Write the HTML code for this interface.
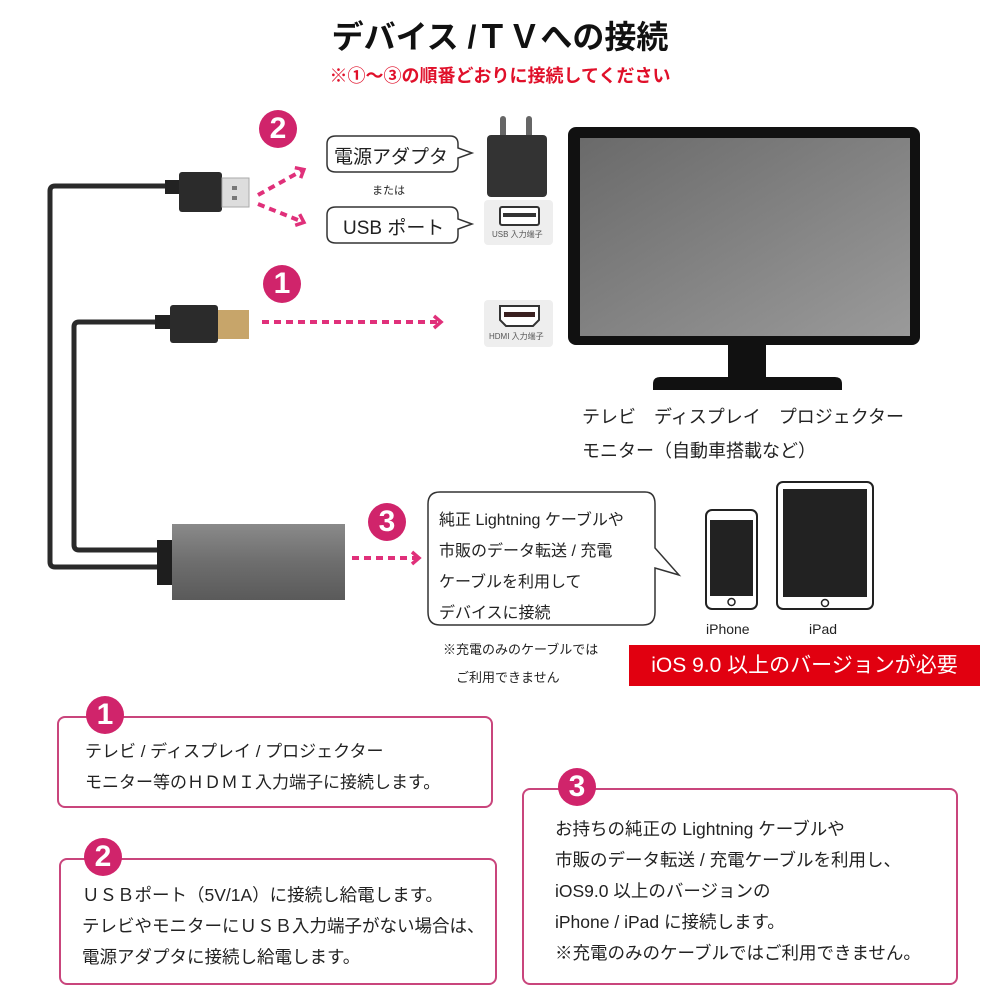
<!DOCTYPE html>
<html><head><meta charset="utf-8"><style>
body{margin:0;width:1000px;height:1000px;background:#fff;position:relative;overflow:hidden;font-family:"Liberation Sans","Noto Sans CJK JP",sans-serif;color:#222}
.t{position:absolute;white-space:nowrap}
.box{position:absolute;border:2px solid #c9457c;border-radius:8px;box-sizing:border-box}
.num{position:absolute;width:38px;height:38px;border-radius:50%;background:#d0246b;color:#fff;font-weight:bold;font-size:30px;line-height:38px;text-align:center}
.bt{position:absolute;font-size:17px;line-height:31px;white-space:nowrap}
</style></head><body>
<div class="t" style="left:0;width:1000px;text-align:center;top:12px;font-size:32px;font-weight:bold;color:#111">デバイス /ＴＶへの接続</div>
<div class="t" style="left:0;width:1000px;text-align:center;top:62px;font-size:18px;font-weight:bold;color:#e0102a">※①～③の順番どおりに接続してください</div>

<svg width="1000" height="1000" style="position:absolute;left:0;top:0">
<defs>
<linearGradient id="scr" x1="0" y1="0" x2="1" y2="1"><stop offset="0" stop-color="#6a6a6a"/><stop offset="1" stop-color="#9a9a9a"/></linearGradient>
<linearGradient id="ad" x1="0" y1="0" x2="0" y2="1"><stop offset="0" stop-color="#8a8a8a"/><stop offset="0.5" stop-color="#6e6e6e"/><stop offset="1" stop-color="#5a5a5a"/></linearGradient>
<marker id="ar" markerUnits="userSpaceOnUse" markerWidth="14" markerHeight="16" refX="8" refY="8" orient="auto"><path d="M2,2 L9,8 L2,14" fill="none" stroke="#e0307a" stroke-width="3.5"/></marker>
</defs>
<path d="M180,186 H55 Q50,186 50,191 V562 Q50,567 55,567 H160" fill="none" stroke="#2a2a2a" stroke-width="5"/>
<path d="M170,322 H79 Q74,322 74,327 V545 Q74,550 79,550 H160" fill="none" stroke="#2a2a2a" stroke-width="5"/>
<rect x="165" y="180" width="18" height="14" fill="#222"/>
<rect x="179" y="172" width="43" height="40" rx="3" fill="#2b2b2b"/>
<rect x="222" y="178" width="27" height="29" fill="#ddd" stroke="#aaa"/>
<rect x="232" y="186" width="5" height="4" fill="#777"/><rect x="232" y="196" width="5" height="4" fill="#777"/>
<rect x="155" y="315" width="18" height="14" fill="#222"/>
<rect x="170" y="305" width="48" height="38" rx="3" fill="#2b2b2b"/>
<rect x="218" y="310" width="31" height="29" fill="#c7a56a"/>
<rect x="157" y="540" width="16" height="45" fill="#1e1e1e"/>
<rect x="172" y="524" width="173" height="76" fill="url(#ad)"/>
<g stroke="#e0307a" stroke-width="4" stroke-dasharray="7,5" fill="none">
<path d="M258,195 L303,170" marker-end="url(#ar)"/>
<path d="M258,204 L303,222" marker-end="url(#ar)"/>
<path d="M262,322 L440,322" marker-end="url(#ar)"/>
<path d="M352,558 L418,558" marker-end="url(#ar)"/>
</g>
<path d="M336,136 H450 Q458,136 458,144 V148 L472,153 L458,158 V164 Q458,172 450,172 H336 Q327,172 327,164 V144 Q327,136 336,136Z" fill="#fff" stroke="#333" stroke-width="1.5"/>
<path d="M336,207 H450 Q458,207 458,215 V219 L472,224 L458,229 V235 Q458,243 450,243 H336 Q327,243 327,235 V215 Q327,207 336,207Z" fill="#fff" stroke="#333" stroke-width="1.5"/>
<path d="M440,492 H645 Q655,492 655,504 V548 L679,575 L655,568 V612 Q655,625 643,625 H440 Q428,625 428,612 V504 Q428,492 440,492Z" fill="#fff" stroke="#333" stroke-width="1.5"/>
<rect x="500" y="116" width="6" height="22" rx="3" fill="#666"/><rect x="526" y="116" width="6" height="22" rx="3" fill="#666"/>
<rect x="487" y="135" width="60" height="62" rx="4" fill="#333"/>
<rect x="484" y="200" width="69" height="45" rx="4" fill="#eee"/>
<rect x="500" y="207" width="39" height="18" rx="2" fill="#fff" stroke="#333" stroke-width="2"/>
<rect x="503" y="213" width="33" height="4" fill="#333"/>
<rect x="484" y="300" width="69" height="47" rx="4" fill="#eee"/>
<path d="M500,306 H539 V320 L533,326 H506 L500,320Z" fill="#fff" stroke="#333" stroke-width="2"/>
<rect x="504" y="312" width="31" height="5" fill="#3a2020"/>
<rect x="568" y="127" width="352" height="218" rx="8" fill="#111"/>
<rect x="580" y="138" width="330" height="198" fill="url(#scr)"/>
<rect x="728" y="344" width="38" height="34" fill="#111"/>
<path d="M660,377 H835 Q842,377 842,384 V390 H653 V384 Q653,377 660,377Z" fill="#111"/>
<rect x="706" y="510" width="51" height="99" rx="6" fill="#fff" stroke="#222" stroke-width="2"/>
<rect x="710" y="520" width="43" height="76" fill="#222"/>
<circle cx="731.5" cy="602" r="3.5" fill="none" stroke="#222" stroke-width="1.5"/>
<rect x="777" y="482" width="96" height="127" rx="6" fill="#fff" stroke="#222" stroke-width="2"/>
<rect x="783" y="489" width="84" height="108" fill="#222"/>
<circle cx="825" cy="603" r="3.5" fill="none" stroke="#222" stroke-width="1.5"/>
</svg>

<div class="num" style="left:259px;top:110px">2</div>
<div class="num" style="left:263px;top:265px">1</div>
<div class="num" style="left:368px;top:503px">3</div>

<div class="t" style="left:334px;top:142px;font-size:19px">電源アダプタ</div>
<div class="t" style="left:372px;top:182px;font-size:11px">または</div>
<div class="t" style="left:343px;top:213px;font-size:19px">USB ポート</div>
<div class="t" style="left:492px;top:229px;font-size:8px;color:#555">USB 入力端子</div>
<div class="t" style="left:489px;top:331px;font-size:8px;color:#555">HDMI 入力端子</div>

<div class="t" style="left:582px;top:403px;font-size:18px">テレビ　ディスプレイ　プロジェクター</div>
<div class="t" style="left:582px;top:437px;font-size:18px">モニター（自動車搭載など）</div>

<div class="t" style="left:439px;top:505px;font-size:16px;line-height:31px">純正 Lightning ケーブルや<br>市販のデータ転送 / 充電<br>ケーブルを利用して<br>デバイスに接続</div>
<div class="t" style="left:443px;top:636px;font-size:13px;line-height:28px">※充電のみのケーブルでは<br>　ご利用できません</div>
<div class="t" style="left:706px;top:621px;font-size:14px">iPhone</div>
<div class="t" style="left:809px;top:621px;font-size:14px">iPad</div>
<div class="t" style="left:629px;top:645px;width:351px;height:41px;background:#e10010;color:#fff;font-size:21px;line-height:41px;text-align:center">iOS 9.0 以上のバージョンが必要</div>

<div class="box" style="left:57px;top:716px;width:436px;height:92px"></div>
<div class="num" style="left:86px;top:696px">1</div>
<div class="bt" style="left:85px;top:736px">テレビ / ディスプレイ / プロジェクター<br>モニター等のＨＤＭＩ入力端子に接続します。</div>

<div class="box" style="left:59px;top:858px;width:438px;height:127px"></div>
<div class="num" style="left:84px;top:838px">2</div>
<div class="bt" style="left:82px;top:880px;font-size:17.5px">ＵＳＢポート（5V/1A）に接続し給電します。<br>テレビやモニターにＵＳＢ入力端子がない場合は、<br>電源アダプタに接続し給電します。</div>

<div class="box" style="left:522px;top:788px;width:436px;height:197px"></div>
<div class="num" style="left:558px;top:768px">3</div>
<div class="bt" style="left:555px;top:814px;font-size:17.5px">お持ちの純正の Lightning ケーブルや<br>市販のデータ転送 / 充電ケーブルを利用し、<br>iOS9.0 以上のバージョンの<br>iPhone / iPad に接続します。<br>※充電のみのケーブルではご利用できません。</div>
</body></html>
